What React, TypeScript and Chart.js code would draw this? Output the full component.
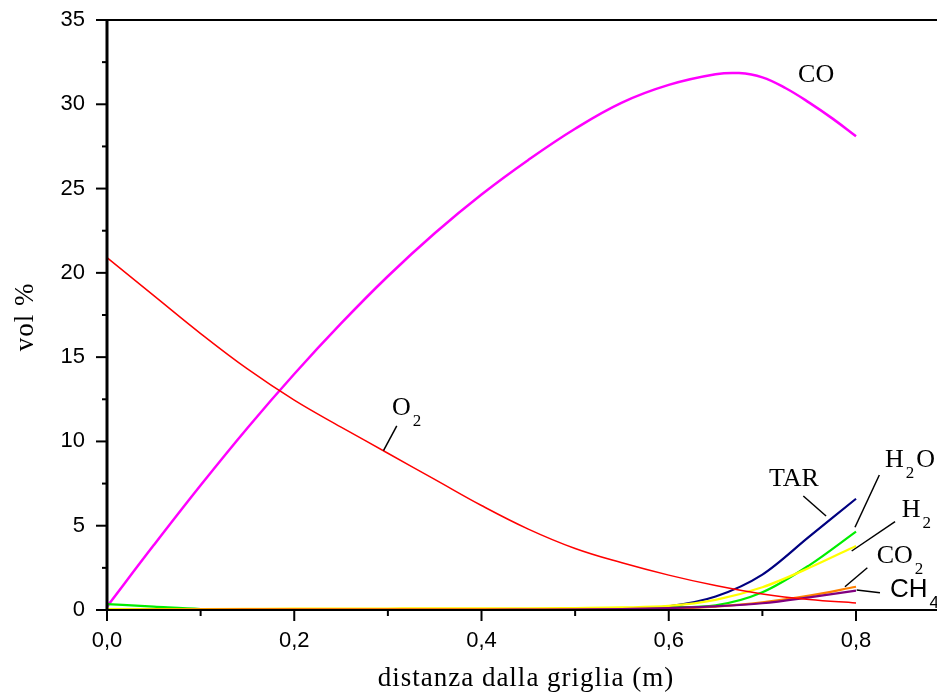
import React, { useEffect, useRef } from 'react';
import { Chart, registerables } from 'chart.js';

Chart.register(...registerables);

// distance from the grate (m)
const xValues = [0, 0.05, 0.1, 0.15, 0.2, 0.25, 0.3, 0.35, 0.4, 0.45, 0.5, 0.55, 0.6, 0.65, 0.7, 0.75, 0.8];
const coX = [0, 0.05, 0.1, 0.15, 0.2, 0.25, 0.3, 0.35, 0.4, 0.45, 0.5, 0.55, 0.6, 0.65, 0.675, 0.7, 0.725, 0.75, 0.775, 0.8];
const coValues = [0.2, 3.85, 7.4, 10.8, 14.0, 17.0, 19.8, 22.35, 24.65, 26.7, 28.55, 30.1, 31.15, 31.78, 31.85, 31.6, 30.95, 30.1, 29.15, 28.1];
const o2Values = [20.9, 18.65, 16.4, 14.3, 12.45, 10.85, 9.3, 7.75, 6.2, 4.8, 3.65, 2.8, 2.07, 1.45, 0.95, 0.62, 0.42];
const tarValues = [0, 0, 0, 0, 0, 0, 0, 0, 0, 0, 0.02, 0.06, 0.22, 0.8, 2.1, 4.35, 6.6];
const h2oValues = [0.35, 0.2, 0.06, 0.03, 0.02, 0.02, 0.02, 0.02, 0.02, 0.03, 0.05, 0.08, 0.15, 0.28, 1.05, 2.65, 4.65];
const h2Values = [0.05, 0.05, 0.06, 0.07, 0.08, 0.08, 0.09, 0.1, 0.1, 0.1, 0.12, 0.15, 0.24, 0.6, 1.35, 2.5, 3.8];
const co2Values = [0, 0.02, 0.04, 0.05, 0.05, 0.05, 0.05, 0.05, 0.05, 0.05, 0.05, 0.06, 0.08, 0.2, 0.45, 0.85, 1.38];
const ch4Values = [0, 0, 0, 0, 0, 0, 0, 0, 0, 0.01, 0.02, 0.05, 0.12, 0.22, 0.4, 0.75, 1.15];
const otherValues = [0, 0, 0, 0, 0, 0, 0, 0, 0, 0, 0, 0, 0, 0, 0, 0, 0];

const xMin = 0;
const xMax = 0.8865;
const yMin = 0;
const yMax = 35;
const xTitle = 'distanza dalla griglia (m)';
const yTitle = 'vol %';

// curve labels: anchor of main text in data units, then subscript and trailing text
type Label = { x: number; y: number; main: string; sub?: string; after?: string; sans?: boolean };
const labels: Label[] = [
  { x: 0.7381, y: 31.34, main: 'CO' },
  { x: 0.3044, y: 11.57, main: 'O', sub: '2' },
  { x: 0.7071, y: 7.374, main: 'TAR' },
  { x: 0.831, y: 8.5, main: 'H', sub: '2', after: 'O' },
  { x: 0.8488, y: 5.535, main: 'H', sub: '2' },
  { x: 0.8221, y: 2.77, main: 'CO', sub: '2' },
  { x: 0.8363, y: 0.789, main: 'CH', sub: '4', sans: true },
];
// leader lines [x1, y1, x2, y2] in data units
const leaders: number[][] = [
  [0.2953, 9.45, 0.3095, 10.92],
  [0.7437, 6.763, 0.768, 5.576],
  [0.8249, 8.009, 0.7989, 4.906],
  [0.8417, 5.238, 0.7954, 3.5],
  [0.8121, 2.509, 0.7882, 1.382],
  [0.8007, 1.186, 0.8256, 1.026],
];

const pts = (xs: number[], ys: number[]) => xs.map((x, i) => ({ x, y: ys[i] }));

const serif = '"Liberation Serif", "Times New Roman", serif';
const sans = '"Liberation Sans", Arial, sans-serif';

const decorPlugin = {
  id: 'decor',
  afterDatasetsDraw(chart: any) {
    const { ctx, chartArea: a, scales } = chart;
    const xs = scales.x;
    const ys = scales.y;
    const W = chart.width;
    ctx.save();
    ctx.strokeStyle = '#000';
    ctx.lineCap = 'butt';
    const seg = (x1: number, y1: number, x2: number, y2: number) => {
      ctx.beginPath();
      ctx.moveTo(x1, y1);
      ctx.lineTo(x2, y2);
      ctx.stroke();
    };
    ctx.lineWidth = 2;
    seg(a.left, a.bottom, W, a.bottom);
    seg(a.left, a.top, W, a.top);
    ctx.lineWidth = 3;
    seg(a.left, a.top - 1, a.left, a.bottom + 1);
    ctx.lineWidth = 2;
    ys.ticks.forEach((t: any) => {
      const p = ys.getPixelForValue(t.value);
      const major = t.label !== '';
      seg(a.left - (major ? 11 : 5), p, a.left, p);
    });
    xs.ticks.forEach((t: any) => {
      const p = xs.getPixelForValue(t.value);
      const major = t.label !== '';
      seg(p, a.bottom, p, a.bottom + (major ? 11 : 6));
    });
    ctx.restore();
  },
  afterDraw(chart: any) {
    const { ctx, chartArea: a, scales } = chart;
    const xs = scales.x;
    const ys = scales.y;
    ctx.save();
    ctx.fillStyle = '#000';
    ctx.font = `27px ${serif}`;
    (ctx as any).letterSpacing = '1px';
    ctx.textAlign = 'center';
    ctx.textBaseline = 'alphabetic';
    ctx.fillText(xTitle, (a.left + a.right) / 2 + 4, 686);
    ctx.save();
    ctx.translate(33, (a.top + a.bottom) / 2 + 2);
    ctx.rotate(-Math.PI / 2);
    ctx.fillText(yTitle, 0, 0);
    ctx.restore();
    (ctx as any).letterSpacing = '0px';
    ctx.strokeStyle = '#000';
    ctx.lineWidth = 1.5;
    leaders.forEach(([x1, y1, x2, y2]) => {
      ctx.beginPath();
      ctx.moveTo(xs.getPixelForValue(x1), ys.getPixelForValue(y1));
      ctx.lineTo(xs.getPixelForValue(x2), ys.getPixelForValue(y2));
      ctx.stroke();
    });
    ctx.textAlign = 'left';
    labels.forEach((l) => {
      const px = xs.getPixelForValue(l.x);
      const py = ys.getPixelForValue(l.y);
      const mainFont = l.sans ? `26px ${sans}` : `26px ${serif}`;
      ctx.font = mainFont;
      ctx.fillText(l.main, px, py);
      let cx = px + ctx.measureText(l.main).width + 2;
      if (l.sub) {
        ctx.font = l.sans ? `17px ${sans}` : `17px ${serif}`;
        ctx.fillText(l.sub, cx, py + 11);
        cx += ctx.measureText(l.sub).width + 2;
      }
      if (l.after) {
        ctx.font = mainFont;
        ctx.fillText(l.after, cx, py);
      }
    });
    ctx.restore();
  },
};

export default function App() {
  const canvasRef = useRef<HTMLCanvasElement | null>(null);

  useEffect(() => {
    const canvas = canvasRef.current;
    if (!canvas) return;
    const ds = (label: string, xs: number[], ys: number[], color: string, width: number, smooth = false) => ({
      label,
      data: pts(xs, ys),
      borderColor: color,
      backgroundColor: color,
      borderWidth: width,
      pointRadius: 0,
      fill: false,
      cubicInterpolationMode: smooth ? ('default' as const) : ('monotone' as const),
      tension: smooth ? 0.4 : 0,
      clip: 6,
    });
    const chart = new Chart(canvas, {
      type: 'line',
      data: {
        datasets: [
          ds('other', xValues, otherValues, '#808000', 2),
          ds('O2', xValues, o2Values, '#ff0000', 1.5, true),
          ds('CH4', xValues, ch4Values, '#800080', 2.2),
          ds('CO2', xValues, co2Values, '#ff8000', 2.2),
          ds('H2', xValues, h2Values, '#ffff00', 2.2),
          ds('H2O', xValues, h2oValues, '#00ee00', 2.2),
          ds('TAR', xValues, tarValues, '#000080', 2.2),
          ds('CO', coX, coValues, '#ff00ff', 2.5, true),
        ],
      },
      options: {
        responsive: false,
        animation: false,
        devicePixelRatio: 1,
        layout: { padding: { left: 0, top: 20, right: 0, bottom: 0 } },
        plugins: {
          legend: { display: false },
          tooltip: { enabled: false },
          title: { display: false },
        },
        scales: {
          x: {
            type: 'linear',
            min: xMin,
            max: xMax,
            afterFit: (s: any) => {
              s.height = 85;
              s.paddingLeft = 0;
              s.paddingRight = 0;
            },
            grid: { display: false, drawTicks: false },
            border: { display: false },
            ticks: {
              stepSize: 0.1,
              autoSkip: false,
              includeBounds: false,
              maxRotation: 0,
              padding: 18,
              color: '#000',
              font: { family: sans, size: 22 },
              callback: (v: any) => {
                const n = Math.round(Number(v) * 10);
                return n % 2 === 0 ? (n / 10).toFixed(1).replace('.', ',') : '';
              },
            },
          },
          y: {
            type: 'linear',
            min: yMin,
            max: yMax,
            afterFit: (s: any) => {
              s.width = 107;
              s.paddingTop = 0;
              s.paddingBottom = 0;
            },
            grid: { display: false, drawTicks: false },
            border: { display: false },
            ticks: {
              stepSize: 2.5,
              autoSkip: false,
              padding: 22,
              color: '#000',
              font: { family: sans, size: 22 },
              callback: (v: any) => {
                const n = Math.round(Number(v) * 10);
                return n % 50 === 0 ? String(n / 10) : '';
              },
            },
          },
        },
      },
      plugins: [decorPlugin],
    });
    return () => chart.destroy();
  }, []);

  return (
    <div style={{ position: 'absolute', left: 0, top: 0, width: 937, height: 695, background: '#fff' }}>
      <canvas ref={canvasRef} width={937} height={695} style={{ display: 'block' }} />
    </div>
  );
}
